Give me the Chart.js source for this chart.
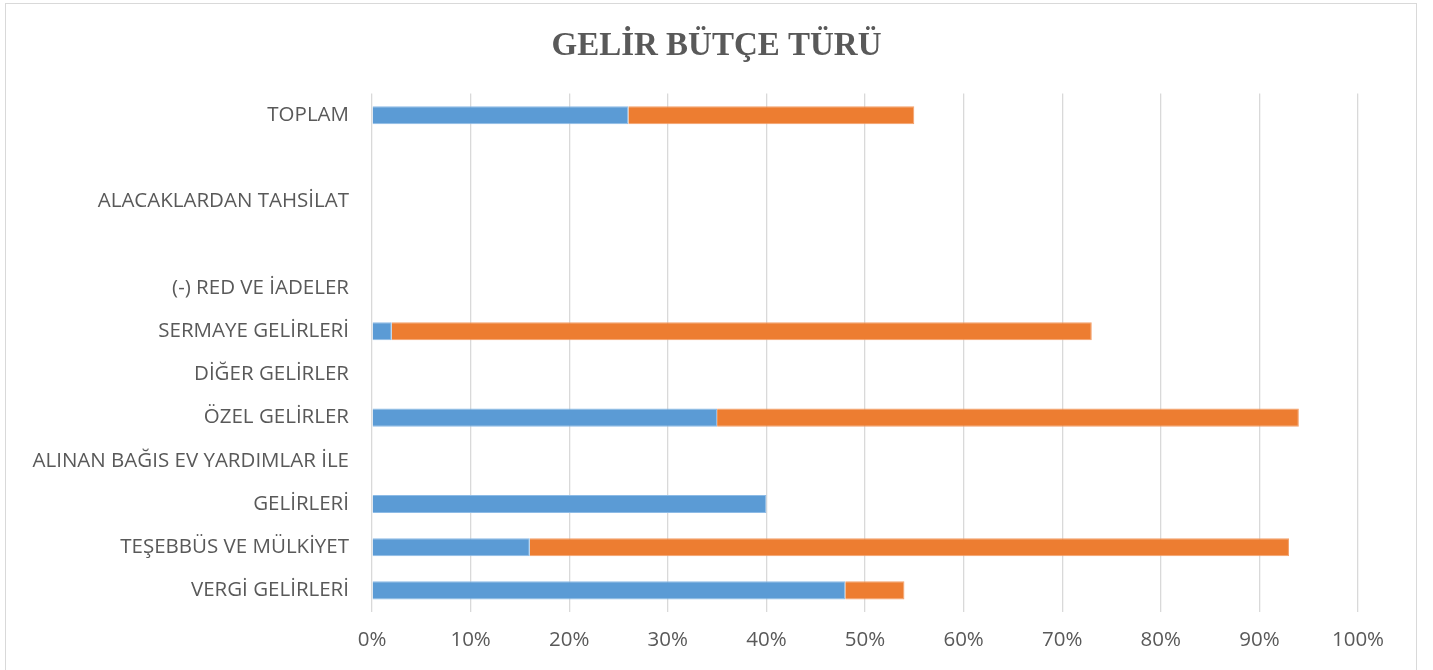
<!DOCTYPE html>
<html lang="tr">
<head>
  <meta charset="UTF-8">
  <title>Gelir Bütçe Türü</title>
  <script src="https://cdn.jsdelivr.net/npm/chart.js"></script>
  <style>
    body { margin: 0; background: #fff; }
    .frame {
      position: absolute; left: 5px; top: 3px;
      width: 1410px; height: 700px;
      border: 1px solid #d9d9d9;
    }
    .chart-box { position: absolute; left: 0; top: 0; width: 1433px; height: 670px; }
  </style>
</head>
<body>
<div class="frame"></div>
<div class="chart-box"><canvas id="chart"></canvas></div>
<script>
  // kategoriler (yukarıdan aşağıya), boş olanlar grafikteki boşluklar
  const categories = [
    'TOPLAM', '', 'ALACAKLARDAN TAHSİLAT', '', '(-) RED VE İADELER',
    'SERMAYE GELİRLERİ', 'DİĞER GELİRLER', 'ÖZEL GELİRLER',
    'ALINAN BAĞIS EV YARDIMLAR İLE', 'GELİRLERİ', 'TEŞEBBÜS VE MÜLKİYET', 'VERGİ GELİRLERİ'
  ];
  // yüzde değerleri
  const seriesA = [26, null, null, null, null, 2, null, 35, null, 40, 16, 48];
  const seriesB = [29, null, null, null, null, 71, null, 59, null, null, 77, 6];
  const xTicks = [0, 10, 20, 30, 40, 50, 60, 70, 80, 90, 100];

  const gray = '#595959';
  const labelFont = { family: 'Open Sans', size: 20.5 };

  new Chart(document.getElementById('chart'), {
    type: 'bar',
    data: {
      labels: categories,
      datasets: [
        { label: 'Seri 1', data: seriesA, backgroundColor: '#5b9bd5', borderColor: '#8dbbe6', borderWidth: 1, barPercentage: 0.42, categoryPercentage: 1 },
        { label: 'Seri 2', data: seriesB, backgroundColor: '#ed7d31', borderColor: '#f3a06a', borderWidth: 1, barPercentage: 0.42, categoryPercentage: 1 }
      ]
    },
    options: {
      indexAxis: 'y',
      responsive: true,
      maintainAspectRatio: false,
      animation: false,
      layout: { padding: 0 },
      plugins: {
        legend: { display: false },
        tooltip: { enabled: false },
        title: {
          display: true,
          text: 'GELİR BÜTÇE TÜRÜ',
          color: gray,
          font: { family: 'Liberation Serif', size: 33, weight: 'bold' },
          padding: { top: 27, bottom: 27 }
        }
      },
      scales: {
        x: {
          stacked: true,
          min: 0, max: 100,
          afterBuildTicks: s => { s.ticks = xTicks.map(v => ({ value: v })); },
          afterFit: s => { s.height = 58; },
          grid: { color: '#d9d9d9', lineWidth: 1.3, drawTicks: false },
          border: { display: false },
          ticks: { color: gray, font: labelFont, padding: 16, callback: v => v + '%' }
        },
        y: {
          stacked: true,
          afterFit: s => { s.width = 372; },
          grid: { display: false },
          border: { display: false },
          ticks: { color: gray, font: labelFont, padding: 15, autoSkip: false }
        },
        // sağ boşluk için boş eksen
        yRight: {
          position: 'right',
          afterFit: s => { s.width = 75; },
          grid: { display: false },
          border: { display: false },
          ticks: { display: false }
        }
      }
    }
  });
</script>
</body>
</html>
